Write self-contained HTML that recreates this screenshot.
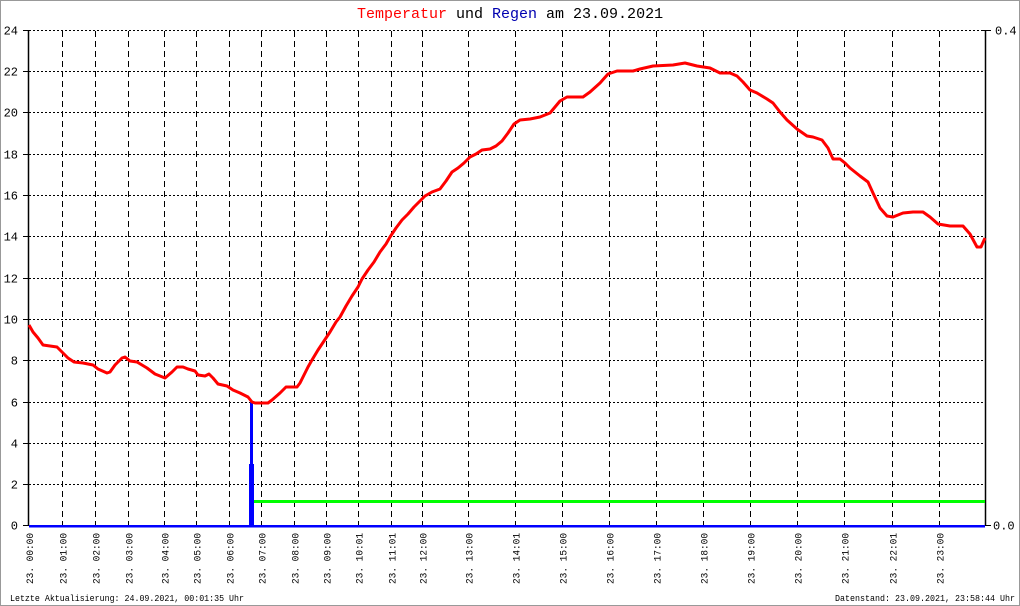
<!DOCTYPE html>
<html><head><meta charset="utf-8"><style>
html,body{margin:0;padding:0;background:#fff;}
svg{display:block;}
</style></head><body>
<svg width="1020" height="606" viewBox="0 0 1020 606" xmlns="http://www.w3.org/2000/svg">
<rect x="0.5" y="0.5" width="1019" height="605" fill="#fff" stroke="#999" stroke-width="1"/>
<text x="357" y="18" font-family="Liberation Mono, monospace" font-size="15" fill="#000"><tspan fill="#ff0000">Temperatur</tspan> und <tspan fill="#0000b0">Regen</tspan> am 23.09.2021</text>
<g stroke="#000" stroke-width="1" stroke-dasharray="2,2" fill="none">
<line x1="29" y1="30.5" x2="985" y2="30.5"/>
<line x1="29" y1="71.5" x2="985" y2="71.5"/>
<line x1="29" y1="112.5" x2="985" y2="112.5"/>
<line x1="29" y1="154.5" x2="985" y2="154.5"/>
<line x1="29" y1="195.5" x2="985" y2="195.5"/>
<line x1="29" y1="236.5" x2="985" y2="236.5"/>
<line x1="29" y1="278.5" x2="985" y2="278.5"/>
<line x1="29" y1="319.5" x2="985" y2="319.5"/>
<line x1="29" y1="360.5" x2="985" y2="360.5"/>
<line x1="29" y1="402.5" x2="985" y2="402.5"/>
<line x1="29" y1="443.5" x2="985" y2="443.5"/>
<line x1="29" y1="484.5" x2="985" y2="484.5"/>
</g>
<g stroke="#000" stroke-width="1" stroke-dasharray="6,4" fill="none">
<line x1="62.5" y1="31" x2="62.5" y2="525"/>
<line x1="95.5" y1="31" x2="95.5" y2="525"/>
<line x1="128.5" y1="31" x2="128.5" y2="525"/>
<line x1="164.5" y1="31" x2="164.5" y2="525"/>
<line x1="196.5" y1="31" x2="196.5" y2="525"/>
<line x1="229.5" y1="31" x2="229.5" y2="525"/>
<line x1="261.5" y1="31" x2="261.5" y2="525"/>
<line x1="294.5" y1="31" x2="294.5" y2="525"/>
<line x1="326.5" y1="31" x2="326.5" y2="525"/>
<line x1="358.5" y1="31" x2="358.5" y2="525"/>
<line x1="391.5" y1="31" x2="391.5" y2="525"/>
<line x1="422.5" y1="31" x2="422.5" y2="525"/>
<line x1="468.5" y1="31" x2="468.5" y2="525"/>
<line x1="515.5" y1="31" x2="515.5" y2="525"/>
<line x1="562.5" y1="31" x2="562.5" y2="525"/>
<line x1="609.5" y1="31" x2="609.5" y2="525"/>
<line x1="656.5" y1="31" x2="656.5" y2="525"/>
<line x1="703.5" y1="31" x2="703.5" y2="525"/>
<line x1="750.5" y1="31" x2="750.5" y2="525"/>
<line x1="797.5" y1="31" x2="797.5" y2="525"/>
<line x1="844.5" y1="31" x2="844.5" y2="525"/>
<line x1="892.5" y1="31" x2="892.5" y2="525"/>
<line x1="939.5" y1="31" x2="939.5" y2="525"/>
</g>
<!-- axes -->
<g stroke="#000" stroke-width="1.5" fill="none">
<line x1="28.5" y1="30" x2="28.5" y2="526"/>
<line x1="985.5" y1="30" x2="985.5" y2="526"/>
</g>
<g stroke="#000" stroke-width="1" fill="none">
<line x1="23" y1="30.5" x2="29" y2="30.5"/>
<line x1="23" y1="71.5" x2="29" y2="71.5"/>
<line x1="23" y1="112.5" x2="29" y2="112.5"/>
<line x1="23" y1="154.5" x2="29" y2="154.5"/>
<line x1="23" y1="195.5" x2="29" y2="195.5"/>
<line x1="23" y1="236.5" x2="29" y2="236.5"/>
<line x1="23" y1="278.5" x2="29" y2="278.5"/>
<line x1="23" y1="319.5" x2="29" y2="319.5"/>
<line x1="23" y1="360.5" x2="29" y2="360.5"/>
<line x1="23" y1="402.5" x2="29" y2="402.5"/>
<line x1="23" y1="443.5" x2="29" y2="443.5"/>
<line x1="23" y1="484.5" x2="29" y2="484.5"/>
<line x1="23" y1="525.5" x2="29" y2="525.5"/>
<line x1="983" y1="30.5" x2="991" y2="30.5"/>
<line x1="985" y1="525.5" x2="991" y2="525.5"/>
<line x1="29" y1="525.5" x2="985" y2="525.5"/>
</g>
<g font-family="Liberation Mono, monospace" font-size="12" fill="#000" text-anchor="end">
<text x="18" y="34.5">24</text>
<text x="18" y="75.5">22</text>
<text x="18" y="116.5">20</text>
<text x="18" y="158.5">18</text>
<text x="18" y="199.5">16</text>
<text x="18" y="240.5">14</text>
<text x="18" y="282.5">12</text>
<text x="18" y="323.5">10</text>
<text x="18" y="364.5">8</text>
<text x="18" y="406.5">6</text>
<text x="18" y="447.5">4</text>
<text x="18" y="488.5">2</text>
<text x="18" y="529.5">0</text>
</g>
<g font-family="Liberation Mono, monospace" font-size="12" fill="#000">
<text x="995" y="34.5">0.4</text>
<text x="993" y="529.5">0.0</text>
</g>
<!-- green line -->
<rect x="254" y="500" width="731" height="3" fill="#00ff00"/>
<!-- rain -->
<rect x="29" y="525" width="956" height="2.5" fill="#0000ff"/>
<rect x="250" y="401" width="3" height="64" fill="#0000ff"/>
<rect x="249" y="464" width="5" height="63" fill="#0000ff"/>
<!-- temperature -->
<polyline fill="none" stroke="#ff0000" stroke-width="3" stroke-linejoin="round" points="29,325 33,332 38,338 43,345 50,346 57,347 63,353 68,358 74,362 83,363 93,365 98,369 107,373 110,372 115,365 122,358 125,357 130,361 137,362 147,368 155,374 165,378 172,372 177,367 183,367 188,369 195,371 198,375 205,376 209,374 213,378 218,384 227,386 233,390 240,393 248,397 252,402 255,403 268,403 272,400 280,393 286,387 297,387 300,383 305,373 308,367 312,360 318,350 324,341 330,332 336,322 340,317 346,306 352,296 358,287 362,279 368,270 374,262 380,252 386,244 390,237 396,228 402,220 408,214 414,207 420,201 425,196 432,192 440,189 446,181 452,172 458,168 464,163 470,157 476,154 482,150 490,149 496,146 502,141 508,133 514,124 520,120 530,119 540,117 550,113 560,101 567,97 583,97 590,92 600,83 608,74 617,71 633,71 640,69 653,66 673,65 685,63 697,66 710,68 720,73 730,73 737,76 743,82 750,90 757,93 767,99 773,103 780,112 787,120 797,129 807,136 813,137 822,140 828,148 833,159 840,159 845,163 850,168 860,176 868,182 873,193 880,208 887,216 893,217 903,213 913,212 923,212 930,217 938,224 950,226 963,226 970,234 977,247 981,247 985,238"/>
<!-- x labels -->
<g font-family="Liberation Mono, monospace" font-size="10.5" fill="#000" text-anchor="end">
<text transform="translate(33,533) rotate(-90)" textLength="51" lengthAdjust="spacingAndGlyphs">23. 00:00</text>
<text transform="translate(66.5,533) rotate(-90)" textLength="51" lengthAdjust="spacingAndGlyphs">23. 01:00</text>
<text transform="translate(99.5,533) rotate(-90)" textLength="51" lengthAdjust="spacingAndGlyphs">23. 02:00</text>
<text transform="translate(132.5,533) rotate(-90)" textLength="51" lengthAdjust="spacingAndGlyphs">23. 03:00</text>
<text transform="translate(168.5,533) rotate(-90)" textLength="51" lengthAdjust="spacingAndGlyphs">23. 04:00</text>
<text transform="translate(200.5,533) rotate(-90)" textLength="51" lengthAdjust="spacingAndGlyphs">23. 05:00</text>
<text transform="translate(233.5,533) rotate(-90)" textLength="51" lengthAdjust="spacingAndGlyphs">23. 06:00</text>
<text transform="translate(265.5,533) rotate(-90)" textLength="51" lengthAdjust="spacingAndGlyphs">23. 07:00</text>
<text transform="translate(298.5,533) rotate(-90)" textLength="51" lengthAdjust="spacingAndGlyphs">23. 08:00</text>
<text transform="translate(330.5,533) rotate(-90)" textLength="51" lengthAdjust="spacingAndGlyphs">23. 09:00</text>
<text transform="translate(362.5,533) rotate(-90)" textLength="51" lengthAdjust="spacingAndGlyphs">23. 10:01</text>
<text transform="translate(395.5,533) rotate(-90)" textLength="51" lengthAdjust="spacingAndGlyphs">23. 11:01</text>
<text transform="translate(426.5,533) rotate(-90)" textLength="51" lengthAdjust="spacingAndGlyphs">23. 12:00</text>
<text transform="translate(472.5,533) rotate(-90)" textLength="51" lengthAdjust="spacingAndGlyphs">23. 13:00</text>
<text transform="translate(519.5,533) rotate(-90)" textLength="51" lengthAdjust="spacingAndGlyphs">23. 14:01</text>
<text transform="translate(566.5,533) rotate(-90)" textLength="51" lengthAdjust="spacingAndGlyphs">23. 15:00</text>
<text transform="translate(613.5,533) rotate(-90)" textLength="51" lengthAdjust="spacingAndGlyphs">23. 16:00</text>
<text transform="translate(660.5,533) rotate(-90)" textLength="51" lengthAdjust="spacingAndGlyphs">23. 17:00</text>
<text transform="translate(707.5,533) rotate(-90)" textLength="51" lengthAdjust="spacingAndGlyphs">23. 18:00</text>
<text transform="translate(754.5,533) rotate(-90)" textLength="51" lengthAdjust="spacingAndGlyphs">23. 19:00</text>
<text transform="translate(801.5,533) rotate(-90)" textLength="51" lengthAdjust="spacingAndGlyphs">23. 20:00</text>
<text transform="translate(848.5,533) rotate(-90)" textLength="51" lengthAdjust="spacingAndGlyphs">23. 21:00</text>
<text transform="translate(896.5,533) rotate(-90)" textLength="51" lengthAdjust="spacingAndGlyphs">23. 22:01</text>
<text transform="translate(943.5,533) rotate(-90)" textLength="51" lengthAdjust="spacingAndGlyphs">23. 23:00</text>
</g>
<g font-family="Liberation Mono, monospace" font-size="9" fill="#000">
<text x="10" y="601" textLength="234" lengthAdjust="spacingAndGlyphs">Letzte Aktualisierung: 24.09.2021, 00:01:35 Uhr</text>
<text x="835" y="601" textLength="180" lengthAdjust="spacingAndGlyphs">Datenstand: 23.09.2021, 23:58:44 Uhr</text>
</g>
</svg>
</body></html>
